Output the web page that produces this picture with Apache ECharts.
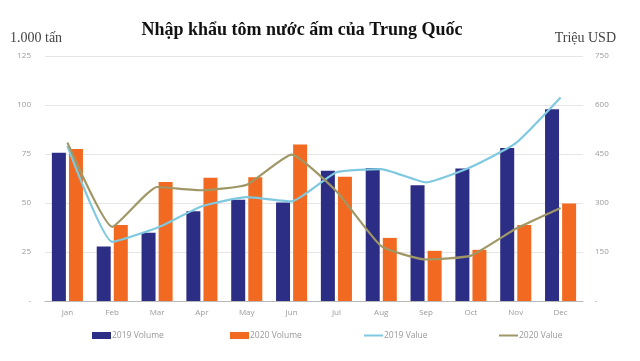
<!DOCTYPE html>
<html><head><meta charset="utf-8">
<script src="https://cdn.jsdelivr.net/npm/echarts@6/dist/echarts.min.js"></script>
<style>html,body{margin:0;padding:0;background:#fff}#c{width:640px;height:361px}</style>
</head><body><div id="c"></div>
<script>
const months = ['Jan','Feb','Mar','Apr','May','Jun','Jul','Aug','Sep','Oct','Nov','Dec'];
const volume2019 = [75.7, 27.8, 34.8, 45.8, 51.7, 50.3, 66.4, 67.8, 59.0, 67.6, 78.0, 97.8];
const volume2020 = [77.5, 38.8, 60.7, 62.9, 63.2, 79.8, 63.4, 32.2, 25.6, 26.1, 38.8, 49.8];
const value2019 = [475, 181, 224, 290, 318, 305, 394, 404, 363, 410, 483, 623];
const value2020 = [485, 227, 349, 339, 356, 448, 336, 168, 127, 139, 221, 285];
const seriesNames = ['2019 Volume', '2020 Volume', '2019 Value', '2020 Value'];
const colors = ['#2c2d84', '#f26a21', '#7fc9e0', '#a09766'];

const chart = echarts.init(document.getElementById('c'), null, {renderer: 'canvas'});
const labelStyle = {color: '#9a9a9a', fontSize: 8, fontFamily: 'Open Sans'};
const legendBase = (name, left, h, icon) => ({
  data: [{name: name, icon: icon}], left: left, top: 326, itemWidth: 19, itemHeight: h,
  itemGap: 0, textStyle: {color: '#999', fontSize: 8.5, fontFamily: 'Open Sans', padding: [0,0,0,-4]}
});
chart.setOption({
  animation: false,
  color: colors,
  title: {
    text: 'Nhập khẩu tôm nước ấm của Trung Quốc', left: 297, textAlign: 'center', top: 16,
    textStyle: {fontFamily: 'Liberation Serif', fontWeight: 'bold', fontSize: 18, color: '#111'}
  },
  graphic: [
    {type: 'text', left: 10, top: 31, style: {text: '1.000 tấn', font: '14px "Liberation Serif"', fill: '#444'}},
    {type: 'text', right: 24, top: 31, style: {text: 'Triệu USD', font: '14px "Liberation Serif"', fill: '#444'}}
  ],
  legend: [
    legendBase(seriesNames[0], 87, 7, 'rect'),
    legendBase(seriesNames[1], 225, 7, 'rect'),
    legendBase(seriesNames[2], 359, 2, 'rect'),
    legendBase(seriesNames[3], 494, 2, 'rect')
  ],
  grid: {left: 45, right: 57, top: 56, bottom: 60},
  xAxis: {
    type: 'category', data: months,
    axisLine: {lineStyle: {color: '#b8b8b8', width: 1}},
    axisTick: {show: false},
    axisLabel: Object.assign({margin: 8}, labelStyle)
  },
  yAxis: [
    {type: 'value', min: 0, max: 125, interval: 25,
     axisLine: {show: false}, axisTick: {show: false},
     splitLine: {lineStyle: {color: '#e6e6e6'}},
     axisLabel: Object.assign({margin: 14, formatter: v => v === 0 ? '-' : String(v)}, labelStyle)},
    {type: 'value', min: 0, max: 750, interval: 150,
     axisLine: {show: false}, axisTick: {show: false}, splitLine: {show: false},
     axisLabel: Object.assign({margin: 12, formatter: v => v === 0 ? '-' : String(v)}, labelStyle)}
  ],
  series: [
    {name: seriesNames[0], type: 'bar', data: volume2019, barWidth: 14, barGap: '22%'},
    {name: seriesNames[1], type: 'bar', data: volume2020, barWidth: 14},
    {name: seriesNames[2], type: 'line', yAxisIndex: 1, data: value2019, symbol: 'none', smooth: 0.15,
     lineStyle: {width: 2.2}},
    {name: seriesNames[3], type: 'line', yAxisIndex: 1, data: value2020, symbol: 'none', smooth: 0.15,
     lineStyle: {width: 2.2}}
  ]
});
</script></body></html>
